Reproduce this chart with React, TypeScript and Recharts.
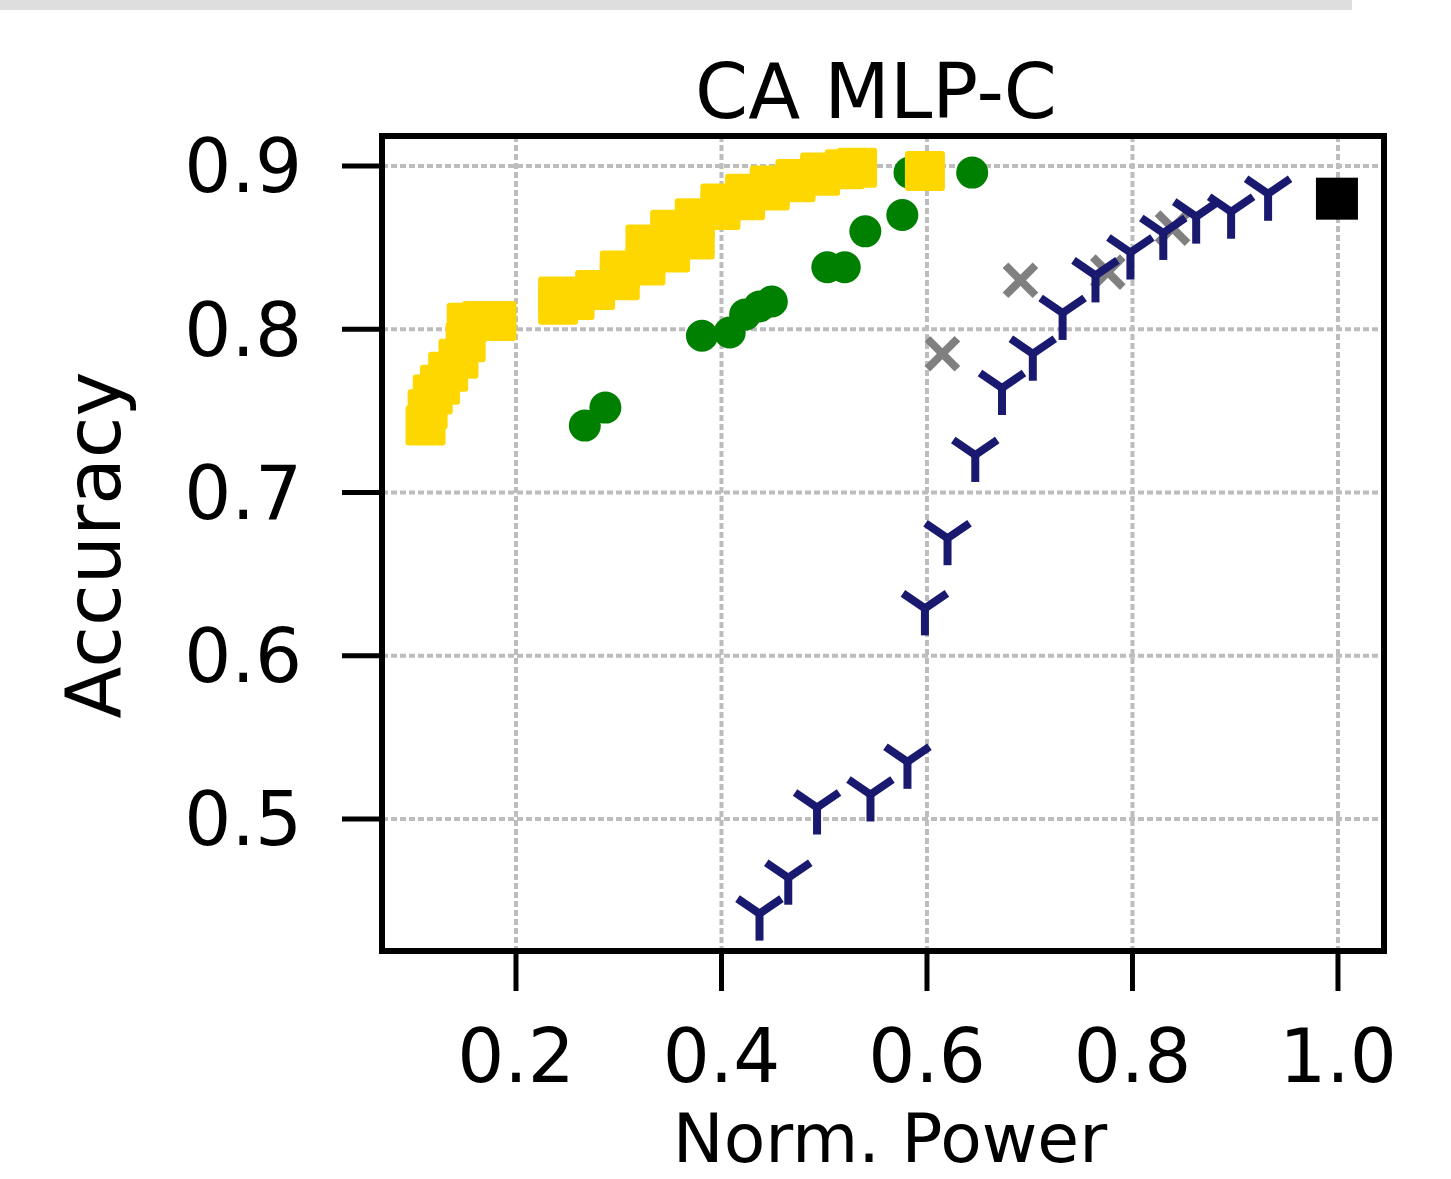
import React from 'react';
import { ScatterChart, Scatter, XAxis, YAxis, CartesianGrid, ReferenceArea } from 'recharts';

// values
const xTicks = [0.2, 0.4, 0.6, 0.8, 1.0];
const yTicks = [0.5, 0.6, 0.7, 0.8, 0.9];
const xDomain = [0.0696, 1.0448];
const yDomain = [0.4191, 0.9184];

const yellowX = [0.112, 0.114, 0.119, 0.126, 0.134, 0.144, 0.151, 0.152, 0.167, 0.181,
  0.241, 0.241, 0.257, 0.277, 0.301, 0.301, 0.326, 0.326, 0.35, 0.35, 0.374, 0.374,
  0.399, 0.399, 0.423, 0.423, 0.447, 0.447, 0.472, 0.472, 0.496, 0.496, 0.52, 0.532, 0.598];
const yellowY = [0.741, 0.751, 0.76, 0.766, 0.774, 0.782, 0.792, 0.804, 0.805, 0.805,
  0.82, 0.815, 0.818, 0.824, 0.836, 0.83, 0.852, 0.839, 0.861, 0.847, 0.868, 0.855,
  0.877, 0.873, 0.883, 0.879, 0.888, 0.885, 0.892, 0.89, 0.896, 0.894, 0.898, 0.899, 0.897];

const greenX = [0.267, 0.287, 0.381, 0.408, 0.423, 0.437, 0.449, 0.503, 0.52, 0.54, 0.576, 0.583, 0.644];
const greenY = [0.741, 0.752, 0.796, 0.798, 0.809, 0.814, 0.817, 0.838, 0.838, 0.86, 0.87, 0.896, 0.896];

const grayX = [0.615, 0.691, 0.776, 0.839];
const grayY = [0.785, 0.83, 0.835, 0.862];

const blueX = [0.437, 0.465, 0.493, 0.545, 0.581, 0.598, 0.62, 0.647, 0.673, 0.703, 0.732,
  0.764, 0.798, 0.83, 0.862, 0.896, 0.932];
const blueY = [0.442, 0.464, 0.507, 0.515, 0.535, 0.629, 0.672, 0.723, 0.764, 0.785, 0.81,
  0.833, 0.847, 0.859, 0.869, 0.872, 0.883];

const blackX = [0.999];
const blackY = [0.88];

const zip = (xs: number[], ys: number[]) => xs.map((x, i) => ({ x, y: ys[i] }));

const FONT = 'DejaVu Sans';

const YellowSquare = (p: any) => (
  <rect x={p.cx - 20} y={p.cy - 20} width={40} height={40} rx={3} fill="#FFD700" />
);
const GreenDot = (p: any) => <circle cx={p.cx} cy={p.cy} r={16} fill="#008000" />;
const GrayCross = (p: any) => (
  <g stroke="#808080" strokeWidth={8}>
    <line x1={p.cx - 15} y1={p.cy - 15} x2={p.cx + 15} y2={p.cy + 15} />
    <line x1={p.cx - 15} y1={p.cy + 15} x2={p.cx + 15} y2={p.cy - 15} />
  </g>
);
const BlueTri = (p: any) => (
  <g stroke="#191970" strokeWidth={8}>
    <line x1={p.cx} y1={p.cy} x2={p.cx} y2={p.cy + 27} />
    <line x1={p.cx} y1={p.cy} x2={p.cx - 22} y2={p.cy - 15} />
    <line x1={p.cx} y1={p.cy} x2={p.cx + 22} y2={p.cy - 15} />
  </g>
);
const BlackSquare = (p: any) => (
  <rect x={p.cx - 21} y={p.cy - 21} width={42} height={42} fill="#000" />
);

const tickStyle = { fontSize: 74, fill: '#000', fontFamily: FONT };

export default function App() {
  return (
    <div style={{ position: 'absolute', top: 0, left: 0, width: 1451, height: 1179, background: '#fff' }}>
      <div style={{ position: 'absolute', top: 0, left: 0, width: 1352, height: 10, background: '#dedede' }} />
      <ScatterChart width={1451} height={1179} margin={{ top: 136, right: 67, bottom: 0, left: 0 }}>
        <CartesianGrid stroke="#bdbdbd" strokeWidth={4} strokeDasharray="6 3" />
        <XAxis
          type="number"
          dataKey="x"
          domain={xDomain}
          allowDataOverflow
          ticks={xTicks}
          tickFormatter={(v: number) => v.toFixed(1)}
          height={228}
          axisLine={false}
          tickSize={40}
          tickMargin={38}
          tickLine={{ stroke: '#000', strokeWidth: 5 }}
          tick={tickStyle}
        />
        <YAxis
          type="number"
          dataKey="y"
          domain={yDomain}
          allowDataOverflow
          ticks={yTicks}
          tickFormatter={(v: number) => v.toFixed(1)}
          width={382}
          axisLine={false}
          tickSize={40}
          tickMargin={40}
          tickLine={{ stroke: '#000', strokeWidth: 5 }}
          tick={tickStyle}
        />
        <Scatter data={zip(greenX, greenY)} shape={GreenDot} isAnimationActive={false} />
        <Scatter data={zip(yellowX, yellowY)} shape={YellowSquare} isAnimationActive={false} />
        <Scatter data={zip(grayX, grayY)} shape={GrayCross} isAnimationActive={false} />
        <Scatter data={zip(blueX, blueY)} shape={BlueTri} isAnimationActive={false} />
        <Scatter data={zip(blackX, blackY)} shape={BlackSquare} isAnimationActive={false} />
        <ReferenceArea
          x1={xDomain[0]}
          x2={xDomain[1]}
          y1={yDomain[0]}
          y2={yDomain[1]}
          fill="none"
          stroke="#000"
          strokeWidth={6}
          ifOverflow="visible"
        />
      </ScatterChart>
      <svg width={1451} height={1179} style={{ position: 'absolute', top: 0, left: 0, pointerEvents: 'none' }}>
        <text x={876} y={118} textAnchor="middle" fontFamily={FONT} fontSize={76} fill="#000">CA MLP-C</text>
        <text x={890} y={1162} textAnchor="middle" fontFamily={FONT} fontSize={68} fill="#000">Norm. Power</text>
        <text x={120} y={545} textAnchor="middle" fontFamily={FONT} fontSize={76} fill="#000"
          transform="rotate(-90 120 545)">Accuracy</text>
      </svg>
    </div>
  );
}
